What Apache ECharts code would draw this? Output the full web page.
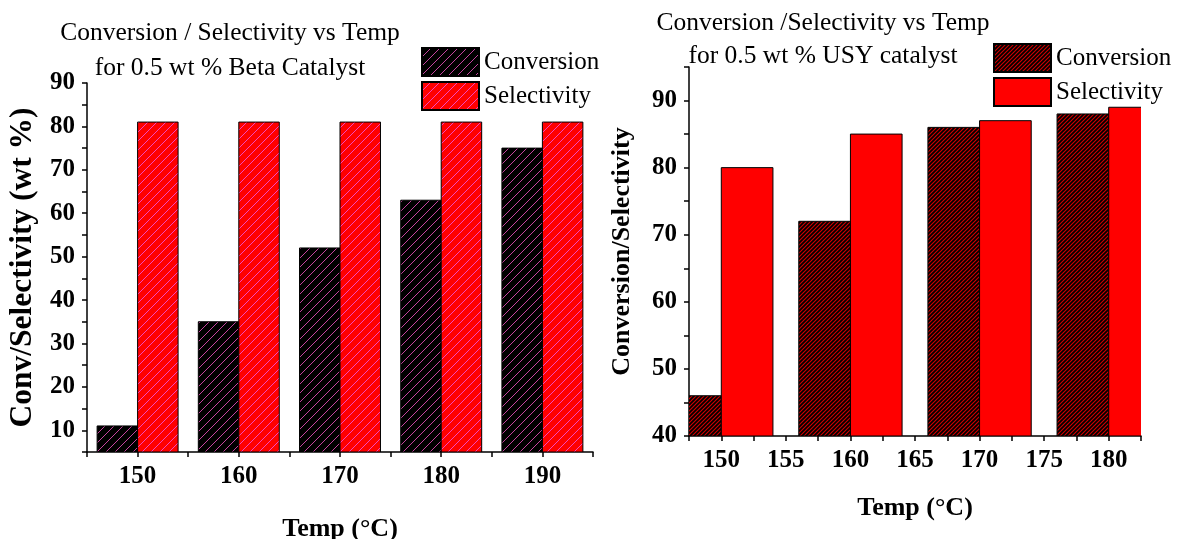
<!DOCTYPE html>
<html>
<head>
<meta charset="utf-8">
<script src="https://cdn.jsdelivr.net/npm/echarts@6/dist/echarts.min.js"></script>
<style>
  html, body { margin: 0; padding: 0; background: #fff; }
  #left { position: absolute; left: 0; top: 0; width: 620px; height: 539px; z-index: 2; }
  #right { position: absolute; left: 600px; top: 0; width: 578px; height: 539px; z-index: 1; }
</style>
</head>
<body>
<div id="right"></div>
<div id="left"></div>
<script>
// ---- data ----
const leftTemps = [150, 160, 170, 180, 190];
const leftConversion = [11, 35, 52, 63, 75];
const leftSelectivity = [81, 81, 81, 81, 81];

const rightTemps = [150, 160, 170, 180];
const rightConversion = [46, 72, 86, 88];
const rightSelectivity = [80, 85, 87, 89];

const leftTitle = 'Conversion / Selectivity vs Temp\nfor 0.5 wt % Beta Catalyst';
const rightTitle = 'Conversion /Selectivity vs Temp\nfor 0.5 wt % USY catalyst';
const leftYName = 'Conv/Selectivity (wt %)';
const rightYName = 'Conversion/Selectivity';
const xName = 'Temp (°C)';
const seriesNames = ['Conversion', 'Selectivity'];

// ---- helpers ----
const FONT = "'Liberation Serif', 'Times New Roman', serif";
const BAR_UNITS = 4; // bar width in axis units (style)

function hatch(bg, fg, period, lw) {
  const c = document.createElement('canvas');
  c.width = period; c.height = period;
  const ctx = c.getContext('2d');
  ctx.fillStyle = bg;
  ctx.fillRect(0, 0, period, period);
  ctx.strokeStyle = fg;
  ctx.lineWidth = lw;
  for (const k of [-1, 0, 1]) {
    ctx.beginPath();
    ctx.moveTo(k * period - 1, period + 1);
    ctx.lineTo(period + k * period + 1, -1);
    ctx.stroke();
  }
  return { image: c, repeat: 'repeat' };
}

function pairs(xs, ys) { return xs.map((x, i) => [x, ys[i]]); }

function barRenderer(offset, base, fill) {
  return function (params, api) {
    const x = api.value(0), y = api.value(1);
    const p0 = api.coord([x + offset, y]);
    const p1 = api.coord([x + offset + BAR_UNITS, base]);
    return {
      type: 'rect',
      shape: { x: p0[0], y: p0[1], width: p1[0] - p0[0], height: p1[1] - p0[1] },
      style: { fill: fill, stroke: '#000', lineWidth: 1 }
    };
  };
}

function buildOption(cfg) {
  const axisLine = { show: true, lineStyle: { color: '#000', width: 1.5 } };
  const axisTick = { show: true, inside: false, length: 5, lineStyle: { color: '#000', width: 1.5 } };
  return {
    animation: false,
    backgroundColor: 'transparent',
    title: {
      text: cfg.title,
      left: cfg.titleX,
      top: cfg.titleTop,
      padding: 0,
      textAlign: 'center',
      textStyle: { fontFamily: FONT, fontWeight: 'normal', fontSize: 25.5, color: '#000', lineHeight: cfg.titleLH, align: 'center' }
    },
    legend: {
      orient: 'vertical',
      left: cfg.legendLeft,
      top: cfg.legendTop,
      padding: 0,
      itemWidth: 57,
      itemHeight: 28,
      itemGap: 4,
      icon: 'rect',
      selectedMode: false,
      data: seriesNames,
      textStyle: { fontFamily: FONT, fontSize: 25, color: '#000', lineHeight: 28 }
    },
    grid: {
      left: cfg.grid.left, top: cfg.grid.top, width: cfg.grid.width, height: cfg.grid.height,
      containLabel: false, outerBoundsMode: 'none'
    },
    xAxis: {
      type: 'value',
      min: cfg.xMin, max: cfg.xMax, interval: cfg.xStep,
      axisLine: axisLine,
      axisTick: axisTick,
      splitLine: { show: false },
      axisLabel: {
        interval: 0, margin: 12,
        fontFamily: FONT, fontWeight: 'bold', fontSize: 25, color: '#000',
        formatter: v => (Math.abs(v % cfg.xLabelStep) < 1e-6 ? String(v) : '')
      },
      name: xName,
      nameLocation: 'middle',
      nameGap: cfg.xNameGap,
      nameTextStyle: { fontFamily: FONT, fontWeight: 'bold', fontSize: 26, color: '#000' }
    },
    yAxis: {
      type: 'value',
      min: cfg.yMin, max: cfg.yMax, interval: 5,
      axisLine: axisLine,
      axisTick: axisTick,
      splitLine: { show: false },
      axisLabel: {
        interval: 0, margin: 12,
        fontFamily: FONT, fontWeight: 'bold', fontSize: 25, color: '#000',
        formatter: v => (v % 10 === 0 && v <= cfg.yLabelMax ? String(v) : '')
      },
      name: cfg.yName,
      nameLocation: 'middle',
      nameGap: cfg.yNameGap,
      nameTextStyle: { fontFamily: FONT, fontWeight: 'bold', fontSize: cfg.yNameSize, color: '#000' }
    },
    series: [
      {
        name: seriesNames[0], type: 'custom', clip: true,
        encode: { x: 0, y: 1 },
        data: pairs(cfg.temps, cfg.conv),
        itemStyle: { color: cfg.convFill, borderColor: '#000', borderWidth: 1 },
        renderItem: barRenderer(-BAR_UNITS, cfg.yMin, cfg.convFill)
      },
      {
        name: seriesNames[1], type: 'custom', clip: true,
        encode: { x: 0, y: 1 },
        data: pairs(cfg.temps, cfg.sel),
        itemStyle: { color: cfg.selFill, borderColor: '#000', borderWidth: 1 },
        renderItem: barRenderer(0, cfg.yMin, cfg.selFill)
      }
    ]
  };
}

const leftChart = echarts.init(document.getElementById('left'), null, { renderer: 'canvas' });
leftChart.setOption(buildOption({
  title: leftTitle, titleX: 230, titleTop: 16, titleLH: 35,
  legendLeft: 421, legendTop: 47,
  grid: { left: 87, top: 83, width: 506, height: 369 },
  xMin: 145, xMax: 195, xStep: 5, xLabelStep: 10, xNameGap: 64,
  yMin: 5, yMax: 90, yLabelMax: 90,
  yName: leftYName, yNameGap: 44, yNameSize: 31.5,
  temps: leftTemps, conv: leftConversion, sel: leftSelectivity,
  convFill: hatch('#000000', '#c4449e', 9, 1.0),
  selFill: hatch('#ff0000', '#f448bc', 9, 1.0)
}));

const rightChart = echarts.init(document.getElementById('right'), null, { renderer: 'canvas' });
rightChart.setOption(buildOption({
  title: rightTitle, titleX: 223, titleTop: 7, titleLH: 33,
  legendLeft: 393, legendTop: 43,
  grid: { left: 89, top: 67, width: 452, height: 369 },
  xMin: 147.5, xMax: 182.5, xStep: 2.5, xLabelStep: 5, xNameGap: 59,
  yMin: 40, yMax: 95, yLabelMax: 90,
  yName: rightYName, yNameGap: 54, yNameSize: 26,
  temps: rightTemps, conv: rightConversion, sel: rightSelectivity,
  convFill: hatch('#000000', '#d40000', 4, 1.1),
  selFill: '#ff0000'
}));
</script>
</body>
</html>
